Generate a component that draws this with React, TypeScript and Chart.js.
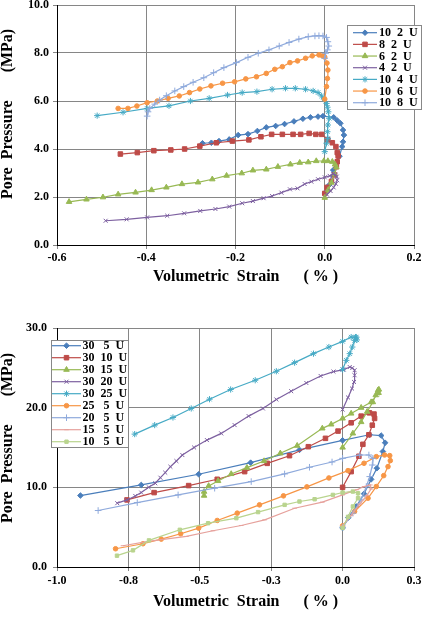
import React, { useEffect, useRef } from 'react';
import { Chart, registerables } from 'chart.js';
import { drawPoint } from 'chart.js/helpers';

Chart.register(...registerables);

const FONT = '"Times New Roman", "Liberation Serif", serif';

// ---------------- Top chart data (Volumetric strain %, pore pressure MPa) ----------------
const topLabels = ['10  2  U', '8  2  U', '6  2  U', '4  2  U', '10  4  U', '10  6  U', '10  8  U'];

const t10_2U = [[0.0, 2.15], [0.01, 2.5], [0.019, 3.12], [0.025, 3.4], [0.033, 3.7], [0.039, 4.1], [0.041, 4.3], [0.043, 4.58], [0.041, 4.79], [0.035, 5.07], [0.028, 5.19], [0.02, 5.32], [-0.004, 5.37], [-0.015, 5.35], [-0.032, 5.32], [-0.049, 5.26], [-0.069, 5.15], [-0.09, 5.04], [-0.11, 4.96], [-0.131, 4.9], [-0.151, 4.75], [-0.172, 4.62], [-0.194, 4.58], [-0.214, 4.4], [-0.237, 4.33], [-0.254, 4.26], [-0.274, 4.24]];
const t8_2U = [[0.0, 2.15], [0.005, 2.4], [0.015, 2.65], [0.022, 2.92], [0.026, 3.26], [0.028, 3.47], [0.03, 3.71], [0.028, 3.85], [0.025, 4.1], [0.017, 4.26], [0.007, 4.38], [-0.007, 4.61], [-0.02, 4.61], [-0.035, 4.65], [-0.054, 4.61], [-0.071, 4.61], [-0.095, 4.61], [-0.119, 4.61], [-0.143, 4.51], [-0.17, 4.38], [-0.207, 4.33], [-0.243, 4.26], [-0.28, 4.12], [-0.314, 4.0], [-0.345, 3.96], [-0.383, 3.93], [-0.42, 3.85], [-0.458, 3.79]];
const t6_2U = [[0.0, 1.97], [0.008, 2.3], [0.015, 2.6], [0.022, 2.95], [0.026, 3.24], [0.023, 3.36], [0.017, 3.47], [0.007, 3.5], [-0.002, 3.5], [-0.019, 3.5], [-0.037, 3.45], [-0.056, 3.43], [-0.077, 3.36], [-0.105, 3.26], [-0.131, 3.15], [-0.161, 3.11], [-0.186, 2.99], [-0.22, 2.89], [-0.252, 2.74], [-0.284, 2.61], [-0.32, 2.54], [-0.355, 2.4], [-0.388, 2.29], [-0.424, 2.19], [-0.463, 2.11], [-0.497, 1.99], [-0.534, 1.9], [-0.573, 1.8]];
const t4_2U = [[0.005, 2.1], [0.013, 2.25], [0.02, 2.4], [0.025, 2.55], [0.028, 2.7], [0.027, 2.85], [0.024, 2.92], [0.019, 2.96], [0.011, 2.88], [0.0, 2.82], [-0.015, 2.74], [-0.03, 2.64], [-0.045, 2.54], [-0.061, 2.36], [-0.078, 2.32], [-0.097, 2.18], [-0.118, 2.04], [-0.137, 1.95], [-0.161, 1.83], [-0.185, 1.74], [-0.214, 1.6], [-0.245, 1.5], [-0.279, 1.42], [-0.315, 1.32], [-0.353, 1.22], [-0.398, 1.15], [-0.444, 1.07], [-0.491, 1.01]];
const t10_4U = [[0.0, 3.89], [0.004, 4.24], [0.007, 4.44], [0.006, 4.72], [0.007, 5.0], [0.01, 5.28], [0.008, 5.55], [0.006, 5.74], [0.004, 5.9], [-0.002, 6.08], [-0.007, 6.21], [-0.015, 6.35], [-0.026, 6.42], [-0.043, 6.49], [-0.066, 6.53], [-0.088, 6.53], [-0.118, 6.49], [-0.152, 6.39], [-0.185, 6.35], [-0.218, 6.25], [-0.259, 6.11], [-0.301, 6.0], [-0.349, 5.8], [-0.398, 5.69], [-0.452, 5.53], [-0.51, 5.39]];
const t10_6U = [[0.0, 6.08], [0.004, 6.6], [0.006, 6.94], [0.007, 7.29], [0.005, 7.58], [0.0, 7.83], [-0.005, 7.88], [-0.013, 7.92], [-0.028, 7.88], [-0.043, 7.78], [-0.061, 7.67], [-0.078, 7.6], [-0.095, 7.43], [-0.112, 7.32], [-0.131, 7.15], [-0.153, 7.01], [-0.177, 6.92], [-0.202, 6.8], [-0.229, 6.74], [-0.255, 6.63], [-0.28, 6.5], [-0.303, 6.35], [-0.326, 6.21], [-0.351, 6.11], [-0.375, 6.0], [-0.398, 5.93], [-0.421, 5.79], [-0.441, 5.69], [-0.463, 5.69]];
const t10_8U = [[0.0, 7.78], [0.002, 7.99], [0.006, 8.13], [0.009, 8.29], [0.007, 8.47], [0.004, 8.65], [-0.004, 8.71], [-0.013, 8.72], [-0.022, 8.71], [-0.037, 8.68], [-0.058, 8.58], [-0.08, 8.44], [-0.102, 8.29], [-0.125, 8.13], [-0.149, 7.99], [-0.172, 7.82], [-0.198, 7.6], [-0.226, 7.39], [-0.249, 7.18], [-0.271, 6.97], [-0.295, 6.78], [-0.316, 6.6], [-0.336, 6.42], [-0.355, 6.22], [-0.37, 6.04], [-0.381, 5.87], [-0.392, 5.69], [-0.396, 5.55], [-0.398, 5.37]];
const topSeries = [t10_2U, t8_2U, t6_2U, t4_2U, t10_4U, t10_6U, t10_8U];

// ---------------- Bottom chart data ----------------
const bottomLabels = ['30   5  U', '30  10  U', '30  15  U', '30  20  U', '30  25  U', '25   5  U', '20   5  U', '15   5  U', '10   5  U'];

const b30_5U = [[0.0, 4.9], [0.02, 6.2], [0.048, 7.6], [0.075, 9.2], [0.1, 11.0], [0.12, 12.4], [0.141, 14.5], [0.149, 15.6], [0.135, 16.5], [0.094, 16.6], [0.0, 15.9], [-0.151, 14.7], [-0.322, 13.1], [-0.504, 11.64], [-0.705, 10.3], [-0.918, 8.97]];
const b30_10U = [[0.0, 10.0], [0.03, 11.97], [0.057, 13.9], [0.071, 15.4], [0.092, 16.6], [0.104, 17.8], [0.112, 18.65], [0.11, 19.2], [0.094, 19.35], [0.065, 18.94], [0.03, 18.1], [-0.016, 17.06], [-0.06, 16.15], [-0.12, 15.1], [-0.186, 13.97], [-0.264, 13.01], [-0.343, 11.97], [-0.439, 11.01], [-0.539, 10.22], [-0.66, 9.34], [-0.755, 8.42]];
const b30_15U = [[0.0, 15.0], [0.036, 16.77], [0.065, 18.2], [0.086, 19.5], [0.106, 20.7], [0.116, 21.57], [0.124, 22.19], [0.127, 22.28], [0.126, 21.86], [0.1, 20.7], [0.065, 20.0], [0.03, 19.27], [0.0, 18.65], [-0.04, 17.9], [-0.071, 17.4], [-0.159, 15.23], [-0.218, 14.27], [-0.275, 13.3], [-0.335, 12.47], [-0.39, 11.68], [-0.436, 10.8], [-0.469, 10.18], [-0.485, 9.46], [-0.485, 8.96]];
const b30_20U = [[0.0, 19.77], [0.019, 21.28], [0.033, 22.4], [0.04, 23.23], [0.042, 24.07], [0.042, 24.7], [0.034, 24.98], [0.025, 25.1], [0.004, 24.78], [-0.032, 24.53], [-0.077, 23.98], [-0.127, 23.1], [-0.18, 22.07], [-0.232, 21.03], [-0.279, 19.9], [-0.329, 18.94], [-0.378, 17.81], [-0.425, 16.77], [-0.475, 15.93], [-0.52, 15.0], [-0.561, 14.05], [-0.582, 13.3], [-0.603, 12.59], [-0.621, 11.84], [-0.638, 11.21], [-0.656, 10.51], [-0.679, 10.01], [-0.705, 9.34], [-0.726, 8.92], [-0.755, 8.42], [-0.789, 8.01]];
const b30_25U = [[0.0, 24.78], [0.013, 25.94], [0.025, 26.78], [0.034, 27.61], [0.042, 28.45], [0.048, 28.86], [0.05, 28.5], [0.045, 28.86], [0.03, 28.86], [0.0, 28.32], [-0.048, 27.61], [-0.102, 26.78], [-0.168, 25.65], [-0.232, 24.57], [-0.306, 23.44], [-0.392, 22.28], [-0.466, 21.06], [-0.53, 19.9], [-0.594, 18.77], [-0.658, 17.81], [-0.728, 16.68]];
const b25_5U = [[0.0, 5.17], [0.042, 6.97], [0.089, 8.64], [0.118, 10.1], [0.144, 11.47], [0.159, 12.6], [0.167, 13.35], [0.165, 13.98], [0.147, 14.06], [0.118, 13.85], [0.075, 13.02], [0.019, 12.1], [-0.048, 11.18], [-0.125, 10.06], [-0.207, 8.93], [-0.291, 7.8], [-0.369, 6.76], [-0.439, 5.84], [-0.504, 4.88], [-0.567, 4.17], [-0.635, 3.5], [-0.699, 2.92], [-0.795, 2.29]];
const b20_5U = [[0.0, 5.0], [0.036, 6.76], [0.065, 8.43], [0.083, 10.1], [0.095, 11.35], [0.104, 12.8], [0.106, 13.64], [0.092, 14.06], [0.06, 14.06], [0.0, 13.64], [-0.037, 13.18], [-0.116, 12.52], [-0.203, 11.68], [-0.32, 10.72], [-0.448, 9.89], [-0.576, 9.05], [-0.719, 8.09], [-0.856, 7.09]];
const b15_5U = [[0.0, 5.17], [0.03, 6.5], [0.06, 7.9], [0.085, 9.0], [0.1, 9.8], [0.097, 10.3], [0.075, 10.1], [0.05, 9.7], [0.025, 9.4], [0.0, 9.05], [-0.071, 8.14], [-0.168, 7.38], [-0.273, 5.92], [-0.355, 5.21], [-0.454, 4.55], [-0.547, 3.84], [-0.681, 3.21], [-0.769, 2.67]];
const b10_5U = [[0.0, 4.9], [0.019, 6.3], [0.036, 7.6], [0.054, 8.64], [0.054, 9.26], [0.036, 9.47], [0.0, 9.35], [-0.034, 9.05], [-0.098, 8.51], [-0.151, 8.22], [-0.203, 7.8], [-0.296, 6.89], [-0.372, 6.13], [-0.471, 5.5], [-0.57, 4.67], [-0.678, 3.34], [-0.734, 2.09], [-0.79, 1.42]];
const bottomSeries = [b30_5U, b30_10U, b30_15U, b30_20U, b30_25U, b25_5U, b20_5U, b15_5U, b10_5U];

// axis ranges: [min, max, step]
const topX = [-0.6, 0.2, 0.2];
const topY = [0, 10, 2];
const bottomX = [-1.0, 0.25, 0.25];
const bottomY = [0, 30, 10];

const xTitle = 'Volumetric  Strain      ( % )';
const yTitle = 'Pore  Pressure       (MPa)';

// ---------------- styles ----------------
const topStyles = [
  { c: '#4A7EBB', p: 'rectRot', r: 2.8 },
  { c: '#BE4B48', p: 'rect', r: 3.2 },
  { c: '#98B954', p: 'triangle', r: 3.2 },
  { c: '#7D60A0', p: 'crossRot', r: 2.8 },
  { c: '#46AAC5', p: 'star', r: 3.1 },
  { c: '#F79646', p: 'circle', r: 2.3 },
  { c: '#8FAADC', p: 'cross', r: 3.3 },
];
const bottomStyles = [
  { c: '#4A7EBB', p: 'rectRot', r: 2.8 },
  { c: '#BE4B48', p: 'rect', r: 3.2 },
  { c: '#98B954', p: 'triangle', r: 3.2 },
  { c: '#7D60A0', p: 'crossRot', r: 2.8 },
  { c: '#46AAC5', p: 'star', r: 3.1 },
  { c: '#F79646', p: 'circle', r: 2.3 },
  { c: '#8FAADC', p: 'cross', r: 3.3 },
  { c: '#E6A19C', p: 'line', r: 2.3 },
  { c: '#B9D48E', p: 'rect', r: 2.4 },
];

type Layout = {
  h: number; padTop: number; xH: number; yW: number; yTickPad: number; xTickPad: number;
  xt: [number, number]; yt: [number, number];
  legend: { x: number; y: number; w: number; h: number; row0: number; rowH: number; l0: number; l1: number; tx: number };
};

function buildConfig(series: number[][][], labels: string[], styles: any[], xr: number[], yr: number[], L: Layout) {
  const N = series.length;
  const datasets = series.map((pts, i) => ({
    label: labels[i],
    data: pts.map(([x, y]) => ({ x, y })),
    showLine: true,
    borderColor: styles[i].c,
    backgroundColor: styles[i].c,
    borderWidth: 1.2,
    pointStyle: styles[i].p,
    pointRadius: styles[i].r,
    pointBackgroundColor: styles[i].c,
    pointBorderColor: styles[i].c,
    pointBorderWidth: 1,
    tension: 0,
    order: N - i,
  }));
  const tickFont = { family: FONT, size: 12, weight: 'bold' as const };
  const overlay = {
    id: 'overlay',
    afterDraw(chart: any) {
      const ctx = chart.ctx as CanvasRenderingContext2D;
      ctx.save();
      ctx.fillStyle = '#000';
      ctx.font = `bold 16px ${FONT}`;
      ctx.textBaseline = 'middle';
      ctx.textAlign = 'left';
      ctx.fillText(xTitle, L.xt[0], L.xt[1]);
      ctx.translate(L.yt[0], L.yt[1]);
      ctx.rotate(-Math.PI / 2);
      ctx.fillText(yTitle, 0, 0);
      ctx.restore();

      const g = L.legend;
      ctx.save();
      ctx.fillStyle = '#fff';
      ctx.fillRect(g.x, g.y, g.w, g.h);
      ctx.strokeStyle = '#888';
      ctx.lineWidth = 1;
      ctx.strokeRect(g.x + 0.5, g.y + 0.5, g.w, g.h);
      chart.data.datasets.forEach((ds: any, i: number) => {
        const y = g.row0 + i * g.rowH;
        ctx.strokeStyle = ds.borderColor;
        ctx.lineWidth = 1.2;
        ctx.beginPath();
        ctx.moveTo(g.l0, y);
        ctx.lineTo(g.l1, y);
        ctx.stroke();
        ctx.fillStyle = ds.pointBackgroundColor;
        ctx.strokeStyle = ds.pointBorderColor;
        ctx.lineWidth = 1;
        drawPoint(ctx, { pointStyle: ds.pointStyle, rotation: 0, radius: ds.pointRadius, borderWidth: 1 } as any, (g.l0 + g.l1) / 2, y);
        ctx.fillStyle = '#000';
        ctx.font = `bold 12px ${FONT}`;
        ctx.textBaseline = 'middle';
        ctx.textAlign = 'left';
        ctx.fillText(ds.label, g.tx, y + 0.5);
      });
      ctx.restore();
    },
  };
  return {
    type: 'scatter' as const,
    data: { datasets },
    plugins: [overlay],
    options: {
      responsive: false,
      animation: false as const,
      events: [],
      layout: { padding: { top: L.padTop, left: 0, right: 8, bottom: 0 } },
      plugins: { legend: { display: false }, tooltip: { enabled: false } },
      scales: {
        x: {
          type: 'linear' as const,
          min: xr[0], max: xr[1],
          ticks: { stepSize: xr[2], autoSkip: false, maxRotation: 0, color: '#000', font: tickFont, padding: L.xTickPad, callback: (v: any) => Number(v).toFixed(1) },
          grid: { color: '#868686', lineWidth: 1, tickLength: 4 },
          border: { color: '#000', width: 1 },
          afterFit: (s: any) => { s.paddingLeft = 0; s.paddingRight = 0; s.height = L.xH; },
        },
        y: {
          type: 'linear' as const,
          min: yr[0], max: yr[1],
          ticks: { stepSize: yr[2], autoSkip: false, color: '#000', font: tickFont, padding: L.yTickPad, callback: (v: any) => Number(v).toFixed(1) },
          grid: { color: '#868686', lineWidth: 1, tickLength: 4 },
          border: { color: '#000', width: 1 },
          afterFit: (s: any) => { s.paddingTop = 0; s.paddingBottom = 0; s.width = L.yW; },
        },
      },
    },
  };
}

const topLayout: Layout = {
  h: 292, padTop: 5, xH: 47, yW: 57, yTickPad: 4, xTickPad: 2,
  xt: [153, 277], yt: [8, 199],
  legend: { x: 347, y: 25, w: 74, h: 84, row0: 32.7, rowH: 11.67, l0: 353, l1: 377, tx: 379 },
};
const bottomLayout: Layout = {
  h: 327, padTop: 36, xH: 52, yW: 57, yTickPad: 6, xTickPad: 3,
  xt: [153, 310], yt: [8, 231],
  legend: { x: 51, y: 48, w: 77, h: 107, row0: 53.7, rowH: 12, l0: 52, l1: 81, tx: 82.5 },
};

function ChartCanvas({ top, series, labels, styles, xr, yr, L }: any) {
  const ref = useRef<HTMLCanvasElement | null>(null);
  useEffect(() => {
    if (!ref.current) return;
    const chart = new Chart(ref.current, buildConfig(series, labels, styles, xr, yr, L) as any);
    return () => chart.destroy();
  }, []);
  return (
    <canvas ref={ref} width={422} height={L.h} style={{ position: 'absolute', left: 0, top, width: 422, height: L.h, display: 'block' }} />
  );
}

export default function App() {
  return (
    <div style={{ position: 'absolute', left: 0, top: 0, width: 422, height: 619, background: '#fff' }}>
      <ChartCanvas top={0} series={topSeries} labels={topLabels} styles={topStyles} xr={topX} yr={topY} L={topLayout} />
      <ChartCanvas top={292} series={bottomSeries} labels={bottomLabels} styles={bottomStyles} xr={bottomX} yr={bottomY} L={bottomLayout} />
    </div>
  );
}
